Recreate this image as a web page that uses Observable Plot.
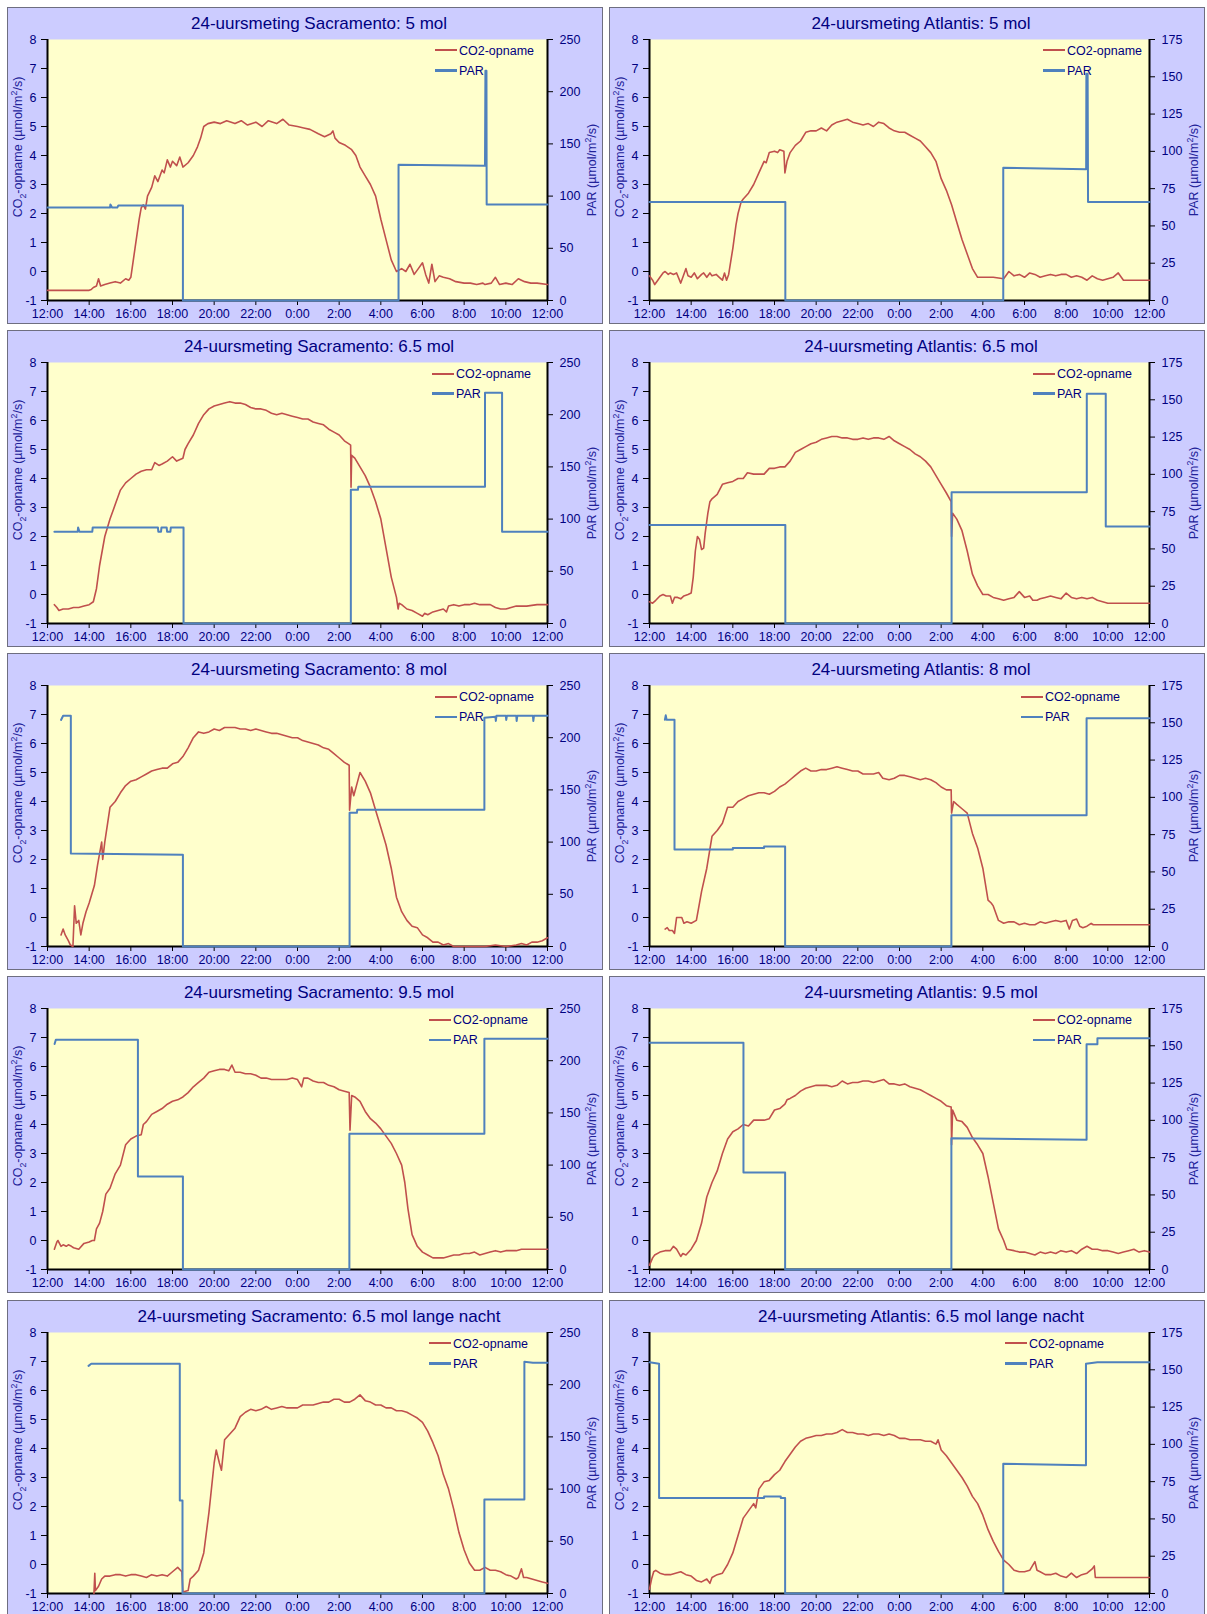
<!DOCTYPE html>
<html><head><meta charset="utf-8">
<script src="https://cdn.jsdelivr.net/npm/d3@7"></script>
<script src="https://cdn.jsdelivr.net/npm/@observablehq/plot@0.6"></script>
<style>
html,body{margin:0;padding:0;background:#fff;width:1207px;height:1614px;overflow:hidden;}
body{position:relative;font-family:"Liberation Sans",Arial,sans-serif;}
.panel{position:absolute;background:#ccccff;box-shadow:inset 0 0 0 1px #6e6e80;overflow:hidden;}
.panel svg{position:absolute;left:0;top:0;}
.title{position:absolute;left:0;width:100%;text-align:center;font-size:17px;line-height:20px;color:#000080;white-space:nowrap;}
.ylab{position:absolute;font-size:12.5px;line-height:14px;color:#222299;white-space:nowrap;transform:translate(-50%,-50%) rotate(-90deg);}
.ylab sub,.ylab sup{font-size:70%;line-height:0;}
.leg{position:absolute;font-size:12.5px;line-height:14px;color:#000080;white-space:nowrap;}
.leg span{display:inline-block;width:22px;vertical-align:middle;margin-right:2px;position:relative;top:-1px;}
</style>
</head><body>
<script>
// ---------- data ----------
const xTicks = [0,2,4,6,8,10,12,14,16,18,20,22,24];
const xTickLabels = ["12:00","14:00","16:00","18:00","20:00","22:00","0:00","2:00","4:00","6:00","8:00","10:00","12:00"];
const co2Ticks = [-1,0,1,2,3,4,5,6,7,8];
const sacParTicks = [0,50,100,150,200,250];
const atlParTicks = [0,25,50,75,100,125,150,175];

const titles = [
 "24-uursmeting Sacramento: 5 mol","24-uursmeting Atlantis: 5 mol",
 "24-uursmeting Sacramento: 6.5 mol","24-uursmeting Atlantis: 6.5 mol",
 "24-uursmeting Sacramento: 8 mol","24-uursmeting Atlantis: 8 mol",
 "24-uursmeting Sacramento: 9.5 mol","24-uursmeting Atlantis: 9.5 mol",
 "24-uursmeting Sacramento: 6.5 mol lange nacht","24-uursmeting Atlantis: 6.5 mol lange nacht"
];
const seriesNames = ["CO2-opname","PAR"];

// time = hours after 12:00
const sac5Co2 = [[0,-0.65],[2.0,-0.65],[2.1,-0.62],[2.2,-0.55],[2.35,-0.5],[2.45,-0.25],[2.55,-0.5],[2.75,-0.45],[3.0,-0.4],[3.25,-0.35],[3.5,-0.4],[3.75,-0.25],[3.9,-0.3],[4.0,-0.2],[4.1,0.3],[4.2,0.8],[4.3,1.3],[4.4,1.8],[4.5,2.2],[4.6,2.3],[4.7,2.15],[4.8,2.6],[5.0,2.9],[5.15,3.3],[5.3,3.1],[5.5,3.5],[5.6,3.4],[5.75,3.85],[5.9,3.6],[6.0,3.8],[6.2,3.65],[6.35,3.95],[6.5,3.6],[6.75,3.75],[7.0,4.0],[7.2,4.3],[7.35,4.6],[7.5,5.0],[7.7,5.1],[8.0,5.15],[8.3,5.1],[8.6,5.2],[9.0,5.1],[9.3,5.2],[9.6,5.05],[10.0,5.15],[10.3,5.0],[10.6,5.2],[11.0,5.1],[11.3,5.25],[11.6,5.05],[12.0,5.0],[12.3,4.95],[12.6,4.9],[13.0,4.75],[13.3,4.65],[13.6,4.75],[13.7,4.85],[13.8,4.6],[14.0,4.45],[14.3,4.35],[14.6,4.2],[14.8,4.0],[15.0,3.6],[15.25,3.3],[15.5,3.0],[15.75,2.6],[16.0,1.8],[16.25,1.1],[16.5,0.4],[16.75,0.0],[17.0,0.1],[17.2,0.0],[17.4,0.25],[17.6,-0.1],[17.8,0.1],[18.0,0.3],[18.15,-0.1],[18.3,-0.4],[18.45,0.25],[18.6,-0.35],[18.8,-0.15],[19.0,-0.2],[19.3,-0.25],[19.6,-0.35],[20.0,-0.4],[20.3,-0.4],[20.6,-0.45],[20.9,-0.4],[21.0,-0.45],[21.3,-0.4],[21.5,-0.2],[21.7,-0.45],[22.0,-0.4],[22.3,-0.45],[22.6,-0.25],[22.9,-0.35],[23.2,-0.4],[23.5,-0.4],[24.0,-0.45]];
const sac5Par = [[0,89],[3.0,89],[3.02,92],[3.1,89],[3.35,89],[3.4,91],[6.5,91],[6.5,0],[16.85,0],[16.85,130],[21.0,129],[21.02,220],[21.07,220],[21.08,92],[24,92]];

const atl5Co2 = [[0,-0.15],[0.15,-0.3],[0.25,-0.45],[0.4,-0.3],[0.5,-0.2],[0.65,-0.05],[0.75,0.0],[0.9,-0.1],[1.0,-0.05],[1.15,-0.1],[1.3,-0.05],[1.5,-0.4],[1.6,-0.2],[1.75,0.1],[1.85,-0.15],[2.0,-0.2],[2.15,-0.05],[2.3,-0.25],[2.5,-0.1],[2.6,-0.05],[2.75,-0.2],[2.9,-0.05],[3.0,-0.15],[3.2,-0.1],[3.35,-0.2],[3.5,-0.3],[3.6,-0.05],[3.7,-0.3],[3.8,-0.1],[4.0,0.8],[4.15,1.6],[4.25,2.0],[4.4,2.4],[4.5,2.5],[4.75,2.7],[5.0,3.0],[5.25,3.4],[5.5,3.8],[5.6,3.75],[5.75,4.1],[6.0,4.15],[6.15,4.1],[6.25,4.2],[6.45,4.15],[6.5,3.4],[6.6,3.8],[6.75,4.1],[7.0,4.35],[7.25,4.5],[7.5,4.8],[7.75,4.85],[8.0,4.85],[8.25,4.95],[8.5,4.85],[8.75,5.05],[9.0,5.15],[9.25,5.2],[9.5,5.25],[9.75,5.15],[10.0,5.1],[10.25,5.05],[10.5,5.1],[10.75,5.0],[11.0,5.15],[11.25,5.1],[11.5,4.95],[11.75,4.85],[12.0,4.8],[12.25,4.8],[12.5,4.7],[12.75,4.6],[13.0,4.5],[13.25,4.3],[13.5,4.1],[13.75,3.8],[14.0,3.2],[14.25,2.8],[14.5,2.3],[14.75,1.7],[15.0,1.1],[15.25,0.6],[15.5,0.1],[15.75,-0.2],[16.0,-0.2],[16.5,-0.2],[17.0,-0.25],[17.25,0.0],[17.5,-0.15],[17.75,-0.1],[18.0,-0.2],[18.25,-0.05],[18.5,-0.1],[18.75,-0.2],[19.0,-0.15],[19.25,-0.1],[19.5,-0.15],[19.75,-0.1],[20.0,-0.1],[20.25,-0.2],[20.5,-0.15],[20.75,-0.2],[21.0,-0.3],[21.25,-0.15],[21.5,-0.25],[21.75,-0.3],[22.0,-0.25],[22.25,-0.2],[22.5,-0.05],[22.75,-0.3],[23.0,-0.3],[24.0,-0.3]];
const atl5Par = [[0,66],[6.52,66],[6.52,0],[16.98,0],[16.98,89],[20.96,88],[20.97,152],[21.03,152],[21.05,66],[24,66]];

const sac65Co2 = [[0.33,-0.35],[0.45,-0.45],[0.55,-0.55],[0.75,-0.5],[1.0,-0.5],[1.25,-0.45],[1.5,-0.45],[1.75,-0.4],[2.0,-0.35],[2.2,-0.25],[2.35,0.2],[2.5,1.0],[2.75,2.0],[3.0,2.6],[3.25,3.1],[3.5,3.6],[3.75,3.85],[4.0,4.0],[4.25,4.15],[4.5,4.25],[4.75,4.3],[5.0,4.3],[5.15,4.55],[5.35,4.45],[5.5,4.5],[5.75,4.6],[6.0,4.75],[6.2,4.6],[6.5,4.7],[6.6,5.0],[6.75,5.2],[7.0,5.5],[7.25,5.9],[7.5,6.2],[7.75,6.4],[8.0,6.5],[8.25,6.55],[8.5,6.6],[8.75,6.65],[9.0,6.6],[9.25,6.6],[9.5,6.55],[9.75,6.45],[10.0,6.4],[10.25,6.4],[10.5,6.35],[10.75,6.25],[11.0,6.2],[11.25,6.25],[11.5,6.2],[11.75,6.15],[12.0,6.1],[12.25,6.05],[12.5,6.05],[12.75,5.95],[13.0,5.9],[13.25,5.85],[13.5,5.7],[13.75,5.6],[14.0,5.5],[14.25,5.3],[14.45,5.2],[14.55,5.15],[14.57,3.7],[14.6,4.8],[14.75,4.7],[15.0,4.4],[15.25,4.1],[15.5,3.7],[15.75,3.2],[16.0,2.6],[16.25,1.6],[16.5,0.6],[16.75,-0.1],[16.83,-0.5],[16.88,-0.3],[17.0,-0.35],[17.25,-0.5],[17.5,-0.55],[17.75,-0.65],[18.0,-0.75],[18.1,-0.65],[18.25,-0.7],[18.5,-0.6],[18.75,-0.55],[19.0,-0.5],[19.15,-0.6],[19.25,-0.4],[19.5,-0.35],[19.75,-0.4],[20.0,-0.35],[20.25,-0.35],[20.5,-0.3],[20.75,-0.35],[21.0,-0.35],[21.25,-0.35],[21.5,-0.45],[21.75,-0.5],[22.0,-0.5],[22.25,-0.45],[22.5,-0.4],[22.75,-0.4],[23.0,-0.4],[23.5,-0.35],[24.0,-0.35]];
const sac65Par = [[0.33,88],[1.45,88],[1.47,92],[1.53,88],[2.15,88],[2.17,92],[5.3,92],[5.32,88],[5.45,88],[5.47,92],[5.72,92],[5.74,88],[5.9,88],[5.92,92],[6.53,92],[6.53,0],[14.56,0],[14.56,128],[14.9,128],[14.92,131],[21.0,131],[21.0,221],[21.82,221],[21.82,88],[24,88]];

const atl65Co2 = [[0,-0.25],[0.15,-0.3],[0.3,-0.2],[0.5,-0.05],[0.65,0.0],[0.8,-0.05],[1.0,-0.05],[1.1,-0.3],[1.2,-0.1],[1.35,-0.1],[1.5,-0.15],[1.65,-0.05],[1.85,0.0],[2.0,0.05],[2.1,0.6],[2.2,1.5],[2.3,2.0],[2.4,1.9],[2.5,1.55],[2.6,1.6],[2.67,2.1],[2.8,2.8],[2.9,3.2],[3.0,3.3],[3.25,3.45],[3.5,3.8],[3.75,3.85],[4.0,3.9],[4.25,4.0],[4.5,4.0],[4.7,4.2],[5.0,4.15],[5.25,4.15],[5.5,4.15],[5.75,4.35],[6.0,4.35],[6.25,4.4],[6.5,4.4],[6.75,4.6],[7.0,4.9],[7.25,5.0],[7.5,5.1],[7.75,5.2],[8.0,5.25],[8.25,5.35],[8.5,5.4],[8.75,5.45],[9.0,5.45],[9.25,5.4],[9.5,5.4],[9.75,5.35],[10.0,5.35],[10.25,5.4],[10.5,5.35],[10.75,5.4],[11.0,5.4],[11.25,5.35],[11.5,5.45],[11.75,5.3],[12.0,5.2],[12.25,5.1],[12.5,5.0],[12.75,4.85],[13.0,4.75],[13.25,4.6],[13.5,4.4],[13.75,4.1],[14.0,3.8],[14.25,3.5],[14.48,3.2],[14.5,2.0],[14.55,2.8],[14.75,2.6],[15.0,2.2],[15.25,1.5],[15.5,0.7],[15.75,0.3],[16.0,0.0],[16.25,0.0],[16.5,-0.1],[16.75,-0.15],[17.0,-0.2],[17.25,-0.15],[17.5,-0.1],[17.75,0.1],[18.0,-0.1],[18.25,-0.05],[18.4,-0.2],[18.6,-0.2],[18.75,-0.15],[19.0,-0.1],[19.25,-0.05],[19.5,-0.1],[19.75,-0.15],[20.0,0.05],[20.25,-0.1],[20.5,-0.15],[20.75,-0.1],[21.0,-0.15],[21.25,-0.1],[21.5,-0.2],[21.75,-0.25],[22.0,-0.3],[24.0,-0.3]];
const atl65Par = [[0,66],[6.52,66],[6.52,0],[14.5,0],[14.5,88],[20.99,88],[20.99,154],[21.9,154],[21.9,65],[24,65]];

const sac8Co2 = [[0.65,-0.6],[0.75,-0.4],[0.85,-0.6],[1.0,-0.8],[1.1,-0.95],[1.22,-1.0],[1.3,0.4],[1.38,-0.2],[1.5,-0.1],[1.6,-0.6],[1.7,-0.2],[1.85,0.2],[2.0,0.5],[2.25,1.1],[2.4,1.8],[2.5,2.2],[2.6,2.6],[2.65,2.0],[2.75,2.6],[3.0,3.8],[3.25,4.0],[3.5,4.3],[3.75,4.55],[4.0,4.7],[4.25,4.75],[4.5,4.85],[4.75,4.95],[5.0,5.05],[5.25,5.1],[5.5,5.15],[5.75,5.15],[6.0,5.3],[6.25,5.35],[6.5,5.55],[6.75,5.85],[7.0,6.2],[7.25,6.4],[7.5,6.35],[7.75,6.4],[8.0,6.5],[8.25,6.45],[8.5,6.55],[8.75,6.55],[9.0,6.55],[9.25,6.5],[9.5,6.5],[9.75,6.45],[10.0,6.5],[10.25,6.45],[10.5,6.4],[10.75,6.35],[11.0,6.35],[11.25,6.3],[11.5,6.25],[11.75,6.2],[12.0,6.2],[12.25,6.1],[12.5,6.05],[12.75,6.0],[13.0,5.95],[13.25,5.85],[13.5,5.8],[13.75,5.65],[14.0,5.5],[14.25,5.35],[14.48,5.25],[14.5,3.7],[14.6,4.5],[14.7,4.2],[14.85,4.6],[15.0,5.0],[15.25,4.7],[15.5,4.3],[15.75,3.7],[16.0,3.1],[16.25,2.5],[16.5,1.7],[16.75,0.7],[17.0,0.2],[17.25,-0.1],[17.5,-0.3],[17.75,-0.35],[18.0,-0.6],[18.25,-0.7],[18.5,-0.85],[18.75,-0.85],[19.0,-0.95],[19.25,-0.9],[19.5,-1.0],[20.0,-1.0],[20.5,-1.0],[21.0,-1.0],[21.5,-0.95],[22.0,-1.0],[22.5,-0.95],[22.75,-0.9],[23.0,-0.95],[23.25,-0.85],[23.5,-0.85],[23.75,-0.8],[24.0,-0.7]];
const sac8Par = [[0.65,217],[0.75,221],[1.12,221],[1.12,89],[6.5,88],[6.5,0],[14.5,0],[14.5,128],[14.85,128],[14.87,131],[20.97,131],[20.97,219],[21.5,220],[21.52,216],[21.55,221],[22.0,221],[22.02,217],[22.05,221],[22.5,221],[22.52,216],[22.55,221],[23.3,221],[23.32,216],[23.35,221],[24,221]];

const atl8Co2 = [[0.75,-0.4],[0.85,-0.35],[0.95,-0.45],[1.1,-0.45],[1.2,-0.55],[1.3,0.0],[1.55,0.0],[1.65,-0.2],[1.8,-0.15],[2.0,-0.2],[2.25,-0.1],[2.35,0.3],[2.5,0.9],[2.75,1.7],[3.0,2.8],[3.25,3.0],[3.5,3.25],[3.75,3.8],[4.0,3.8],[4.25,4.0],[4.5,4.1],[4.75,4.2],[5.0,4.25],[5.25,4.3],[5.5,4.3],[5.75,4.25],[6.0,4.35],[6.25,4.5],[6.5,4.6],[6.75,4.75],[7.0,4.9],[7.25,5.05],[7.5,5.15],[7.75,5.05],[8.0,5.05],[8.25,5.1],[8.5,5.1],[8.75,5.15],[9.0,5.2],[9.25,5.15],[9.5,5.1],[9.75,5.05],[10.0,5.05],[10.25,4.95],[10.5,4.95],[10.75,4.95],[11.0,5.0],[11.2,4.8],[11.5,4.75],[11.75,4.8],[12.0,4.9],[12.25,4.9],[12.5,4.85],[12.75,4.8],[13.0,4.75],[13.25,4.8],[13.5,4.75],[13.75,4.65],[14.0,4.5],[14.25,4.4],[14.48,4.4],[14.5,3.6],[14.6,4.0],[14.75,3.9],[15.0,3.75],[15.25,3.6],[15.5,2.9],[15.75,2.4],[16.0,1.7],[16.25,0.6],[16.4,0.5],[16.5,0.4],[16.75,-0.1],[17.0,-0.2],[17.25,-0.15],[17.5,-0.15],[17.75,-0.25],[18.0,-0.2],[18.25,-0.25],[18.5,-0.25],[18.75,-0.15],[19.0,-0.2],[19.25,-0.15],[19.5,-0.1],[19.75,-0.15],[20.0,-0.1],[20.15,-0.4],[20.3,-0.1],[20.5,-0.05],[20.65,-0.3],[20.8,-0.35],[21.0,-0.3],[21.2,-0.2],[21.3,-0.25],[24.0,-0.25]];
const atl8Par = [[0.74,152],[0.78,155],[0.82,152],[1.2,152],[1.2,65],[4.0,65],[4.0,66],[5.5,66],[5.5,67],[6.51,67],[6.51,0],[14.49,0],[14.49,88],[20.98,88],[20.98,153],[24,153]];

const sac95Co2 = [[0.33,-0.3],[0.45,-0.05],[0.5,0.0],[0.65,-0.2],[0.75,-0.15],[0.9,-0.2],[1.0,-0.15],[1.15,-0.2],[1.25,-0.25],[1.5,-0.3],[1.75,-0.1],[2.0,-0.05],[2.15,0.0],[2.25,0.0],[2.35,0.4],[2.5,0.6],[2.65,1.0],[2.8,1.6],[3.0,1.8],[3.25,2.3],[3.5,2.6],[3.75,3.3],[4.0,3.5],[4.25,3.6],[4.5,3.65],[4.6,4.0],[4.75,4.1],[5.0,4.35],[5.25,4.45],[5.5,4.55],[5.75,4.7],[6.0,4.8],[6.25,4.85],[6.5,4.95],[6.75,5.1],[7.0,5.3],[7.25,5.45],[7.5,5.6],[7.75,5.8],[8.0,5.85],[8.25,5.9],[8.5,5.9],[8.7,5.85],[8.85,6.05],[9.0,5.8],[9.25,5.8],[9.5,5.75],[9.75,5.75],[10.0,5.7],[10.25,5.6],[10.5,5.6],[10.75,5.55],[11.0,5.55],[11.25,5.55],[11.5,5.55],[11.75,5.6],[12.0,5.55],[12.2,5.3],[12.3,5.6],[12.5,5.6],[12.75,5.5],[13.0,5.45],[13.25,5.45],[13.5,5.35],[13.75,5.3],[14.0,5.2],[14.25,5.15],[14.48,5.1],[14.52,3.8],[14.6,5.0],[14.75,4.95],[15.0,4.8],[15.25,4.45],[15.5,4.2],[15.75,4.05],[16.0,3.85],[16.25,3.6],[16.5,3.35],[16.75,3.0],[17.0,2.6],[17.15,2.0],[17.3,1.1],[17.5,0.2],[17.75,-0.2],[18.0,-0.4],[18.25,-0.5],[18.5,-0.6],[18.75,-0.6],[19.0,-0.6],[19.25,-0.55],[19.5,-0.5],[19.75,-0.5],[20.0,-0.45],[20.25,-0.45],[20.5,-0.4],[20.75,-0.5],[21.0,-0.45],[21.25,-0.4],[21.5,-0.35],[21.75,-0.4],[22.0,-0.35],[22.25,-0.35],[22.5,-0.35],[22.75,-0.3],[23.0,-0.3],[24.0,-0.3]];
const sac95Par = [[0.34,216],[0.4,220],[4.34,220],[4.34,89],[6.5,89],[6.5,0],[14.49,0],[14.49,130],[20.97,130],[20.97,221],[24,221]];

const atl95Co2 = [[0,-0.85],[0.15,-0.6],[0.25,-0.5],[0.5,-0.4],[0.75,-0.35],[1.0,-0.35],[1.15,-0.2],[1.3,-0.3],[1.5,-0.55],[1.6,-0.45],[1.75,-0.5],[2.0,-0.3],[2.25,0.0],[2.5,0.6],[2.75,1.5],[3.0,2.0],[3.25,2.4],[3.5,3.0],[3.75,3.5],[4.0,3.75],[4.25,3.85],[4.5,4.0],[4.75,3.95],[5.0,4.15],[5.25,4.15],[5.5,4.15],[5.75,4.2],[6.0,4.5],[6.25,4.55],[6.5,4.7],[6.6,4.85],[6.75,4.9],[7.0,5.0],[7.25,5.15],[7.5,5.25],[7.75,5.3],[8.0,5.35],[8.25,5.35],[8.5,5.35],[8.75,5.3],[9.0,5.35],[9.25,5.5],[9.5,5.4],[9.75,5.45],[10.0,5.45],[10.25,5.5],[10.5,5.5],[10.75,5.45],[11.0,5.5],[11.25,5.55],[11.5,5.4],[11.75,5.4],[12.0,5.35],[12.25,5.4],[12.5,5.3],[12.75,5.25],[13.0,5.2],[13.25,5.1],[13.5,5.0],[13.75,4.9],[14.0,4.8],[14.25,4.65],[14.48,4.6],[14.5,3.3],[14.55,4.5],[14.75,4.15],[15.0,4.1],[15.25,3.9],[15.5,3.55],[15.75,3.3],[16.0,3.0],[16.25,2.2],[16.5,1.3],[16.75,0.4],[17.0,0.0],[17.15,-0.3],[17.5,-0.35],[17.75,-0.4],[18.0,-0.4],[18.25,-0.45],[18.5,-0.5],[18.75,-0.4],[19.0,-0.45],[19.25,-0.4],[19.5,-0.45],[19.75,-0.35],[20.0,-0.4],[20.25,-0.35],[20.5,-0.45],[20.75,-0.3],[21.0,-0.2],[21.25,-0.3],[21.5,-0.3],[21.75,-0.35],[22.0,-0.35],[22.25,-0.4],[22.5,-0.45],[22.75,-0.4],[23.0,-0.35],[23.25,-0.3],[23.5,-0.4],[23.75,-0.35],[24.0,-0.4]];
const atl95Par = [[0,152],[4.51,152],[4.51,65],[6.51,65],[6.51,0],[14.49,0],[14.49,88],[20.98,87],[20.98,151],[21.5,151],[21.5,155],[24,155]];

const sacLNCo2 = [[2.23,-1.0],[2.27,-0.3],[2.3,-0.9],[2.45,-0.75],[2.6,-0.5],[2.75,-0.4],[3.0,-0.4],[3.25,-0.35],[3.5,-0.35],[3.75,-0.4],[4.0,-0.35],[4.25,-0.35],[4.5,-0.4],[4.75,-0.45],[5.0,-0.35],[5.25,-0.4],[5.5,-0.35],[5.75,-0.4],[6.0,-0.25],[6.25,-0.1],[6.45,-0.25],[6.5,-0.95],[6.75,-0.9],[6.85,-0.5],[7.0,-0.4],[7.25,-0.2],[7.5,0.4],[7.75,1.8],[8.0,3.5],[8.1,3.95],[8.25,3.5],[8.35,3.25],[8.5,4.3],[8.75,4.5],[9.0,4.7],[9.25,5.1],[9.5,5.25],[9.75,5.35],[10.0,5.3],[10.25,5.35],[10.5,5.45],[10.75,5.35],[11.0,5.4],[11.25,5.45],[11.5,5.4],[11.75,5.4],[12.0,5.4],[12.25,5.5],[12.5,5.5],[12.75,5.5],[13.0,5.55],[13.25,5.6],[13.5,5.6],[13.75,5.7],[14.0,5.7],[14.25,5.6],[14.5,5.6],[14.75,5.7],[15.0,5.85],[15.25,5.65],[15.5,5.6],[15.75,5.5],[16.0,5.5],[16.25,5.4],[16.5,5.4],[16.75,5.3],[17.0,5.3],[17.25,5.25],[17.5,5.15],[17.75,5.05],[18.0,4.9],[18.25,4.6],[18.5,4.2],[18.75,3.75],[19.0,3.1],[19.25,2.6],[19.5,1.9],[19.75,1.1],[20.0,0.5],[20.25,0.05],[20.5,-0.2],[20.75,-0.2],[21.0,-0.1],[21.25,-0.2],[21.5,-0.2],[21.75,-0.25],[22.0,-0.35],[22.25,-0.4],[22.5,-0.5],[22.6,-0.45],[22.75,-0.15],[22.85,-0.45],[23.0,-0.45],[23.25,-0.5],[23.5,-0.55],[23.75,-0.6],[24.0,-0.65]];
const sacLNPar = [[1.97,218],[2.1,220],[6.35,220],[6.35,89],[6.48,89],[6.48,0],[20.97,0],[20.97,90],[22.89,90],[22.89,222],[23.3,221],[24,221]];

const atlLNCo2 = [[0,-0.85],[0.1,-0.5],[0.2,-0.25],[0.3,-0.2],[0.5,-0.3],[0.75,-0.35],[1.0,-0.35],[1.25,-0.3],[1.5,-0.25],[1.75,-0.35],[2.0,-0.4],[2.25,-0.55],[2.5,-0.6],[2.75,-0.5],[2.9,-0.65],[3.0,-0.45],[3.25,-0.35],[3.5,-0.3],[3.75,0.0],[4.0,0.4],[4.25,1.0],[4.5,1.6],[4.75,1.85],[5.0,2.1],[5.1,1.95],[5.25,2.6],[5.5,2.85],[5.75,2.9],[6.0,3.1],[6.25,3.25],[6.5,3.55],[6.75,3.8],[7.0,4.05],[7.25,4.25],[7.5,4.35],[7.75,4.4],[8.0,4.45],[8.25,4.45],[8.5,4.5],[8.75,4.5],[9.0,4.55],[9.25,4.65],[9.5,4.55],[9.75,4.55],[10.0,4.5],[10.25,4.5],[10.5,4.45],[10.75,4.5],[11.0,4.5],[11.25,4.45],[11.5,4.5],[11.75,4.45],[12.0,4.35],[12.25,4.35],[12.5,4.3],[12.75,4.3],[13.0,4.3],[13.25,4.25],[13.5,4.25],[13.75,4.15],[13.85,4.3],[14.0,3.95],[14.25,3.75],[14.5,3.5],[14.75,3.25],[15.0,3.0],[15.25,2.7],[15.5,2.35],[15.75,2.1],[16.0,1.7],[16.25,1.2],[16.5,0.8],[16.75,0.45],[17.0,0.15],[17.25,0.0],[17.5,-0.2],[17.75,-0.25],[18.0,-0.25],[18.25,-0.2],[18.5,0.1],[18.6,-0.2],[18.75,-0.25],[19.0,-0.35],[19.25,-0.35],[19.5,-0.3],[19.75,-0.4],[20.0,-0.45],[20.25,-0.3],[20.5,-0.45],[20.75,-0.35],[21.0,-0.3],[21.25,-0.15],[21.35,-0.05],[21.4,-0.45],[24.0,-0.45]];
const atlLNPar = [[0,155],[0.46,154],[0.46,64],[5.5,64],[5.5,65],[6.3,65],[6.3,64],[6.51,64],[6.51,0],[16.98,0],[16.98,87],[20.95,86],[20.95,154],[21.5,155],[24,155]];

const co2Series = [sac5Co2, atl5Co2, sac65Co2, atl65Co2, sac8Co2, atl8Co2, sac95Co2, atl95Co2, sacLNCo2, atlLNCo2];
const parSeries = [sac5Par, atl5Par, sac65Par, atl65Par, sac8Par, atl8Par, sac95Par, atl95Par, sacLNPar, atlLNPar];

// ---------- layout (not data) ----------
const panelW = 596, panelH = 317, rowPitch = 323.25;
const colLeft = [7, 609];
const legendLeft = [428, 434, 425, 424, 428, 412, 422, 424, 422, 396];
const C = {red: "#c0504d", blue: "#4f81bd", navy: "#000080", plotBg: "#ffffcc"};

for (let k = 0; k < 10; k++) {
  const r = Math.floor(k / 2), c = k % 2;
  const isSac = c === 0;
  const parTicks = isSac ? sacParTicks : atlParTicks;
  const parMax = parTicks[parTicks.length - 1];
  const toY = p => -1 + p / parMax * 9;
  const fromY = y => (y + 1) / 9 * parMax;

  const panel = document.createElement("div");
  panel.className = "panel";
  panel.style.left = colLeft[c] + "px";
  panel.style.top = (6.7 + r * rowPitch) + "px";
  panel.style.width = panelW + "px";
  panel.style.height = panelH + "px";
  document.body.appendChild(panel);

  const chart = Plot.plot({
    width: panelW, height: panelH,
    marginTop: 32, marginBottom: 24, marginLeft: 40, marginRight: 56,
    style: {background: "transparent", fontFamily: "'Liberation Sans', Arial, sans-serif", fontSize: "12.5px", color: C.navy, overflow: "visible"},
    x: {domain: [0, 24]},
    y: {domain: [-1, 8]},
    marks: [
      Plot.frame({fill: C.plotBg, stroke: null}),
      Plot.axisX(xTicks, {tickSize: 5, tickPadding: 4, stroke: "black", fill: C.navy, tickFormat: d => xTickLabels[Math.round(d / 2)], label: null}),
      Plot.axisY(co2Ticks, {anchor: "left", tickSize: 6, tickPadding: 5, stroke: "black", fill: C.navy, tickFormat: d => String(d), label: null}),
      Plot.axisY(parTicks.map(toY), {anchor: "right", tickSize: 5, tickPadding: 7, stroke: "black", fill: C.navy, tickFormat: d => String(Math.round(fromY(d))), label: null}),
      Plot.ruleY([-1], {stroke: "black", strokeWidth: 2}),
      Plot.ruleX([0, 24], {stroke: "black", strokeWidth: 2}),
      Plot.line(co2Series[k], {x: d => d[0], y: d => d[1], stroke: C.red, strokeWidth: 1.6}),
      Plot.line(parSeries[k], {x: d => d[0], y: d => toY(d[1]), stroke: C.blue, strokeWidth: 2})
    ]
  });
  panel.appendChild(chart);

  const t = document.createElement("div");
  t.className = "title";
  t.style.top = "7px";
  t.style.paddingLeft = "28px";
  t.style.boxSizing = "border-box";
  t.textContent = titles[k];
  panel.appendChild(t);

  const yl = document.createElement("div");
  yl.className = "ylab";
  yl.style.left = "10.5px"; yl.style.top = "140px";
  yl.innerHTML = "CO<sub>2</sub>-opname (µmol/m<sup>2</sup>/s)";
  panel.appendChild(yl);

  const yr = document.createElement("div");
  yr.className = "ylab";
  yr.style.left = "585px"; yr.style.top = "163px";
  yr.innerHTML = "PAR (µmol/m<sup>2</sup>/s)";
  panel.appendChild(yr);

  [[seriesNames[0], C.red, 2, 44], [seriesNames[1], C.blue, 2.5, 64]].forEach(([name, col, w, cy]) => {
    const lg = document.createElement("div");
    lg.className = "leg";
    lg.style.left = legendLeft[k] + "px";
    lg.style.top = (cy - 7) + "px";
    lg.innerHTML = `<span style="height:${w}px;background:${col}"></span>${name}`;
    panel.appendChild(lg);
  });
}
</script>
</body></html>
